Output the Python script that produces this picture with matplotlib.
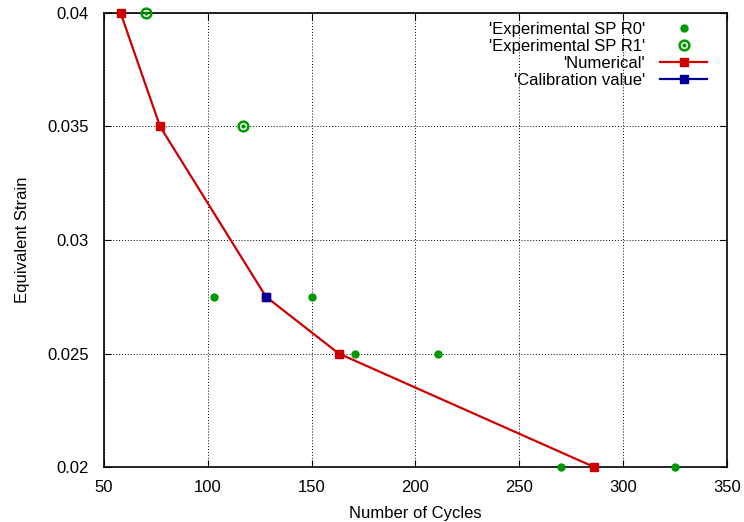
import matplotlib
matplotlib.use('Agg')
import matplotlib.pyplot as plt

# data
r0_cycles = [103, 150, 171, 211, 270, 325]
r0_strain = [0.0275, 0.0275, 0.025, 0.025, 0.02, 0.02]
r1_cycles = [70, 117]
r1_strain = [0.04, 0.035]
num_cycles = [58, 77, 128, 163, 286]
num_strain = [0.04, 0.035, 0.0275, 0.025, 0.02]
cal_cycles = [128]
cal_strain = [0.0275]

green = '#009900'
plt.rcParams['font.family'] = ['Liberation Sans', 'DejaVu Sans']
plt.rcParams['font.size'] = 12

fig = plt.figure(figsize=(7.44, 5.22), dpi=100)
ax = fig.add_axes([104 / 744, 1 - 467 / 522, 623 / 744, 454 / 522])

r0, = ax.plot(r0_cycles, r0_strain, 'o', color=green, markersize=5,
              linestyle='none', clip_on=False, zorder=4)
ring, = ax.plot(r1_cycles, r1_strain, 'o', markerfacecolor='none', markeredgecolor=green,
                markeredgewidth=1.8, markersize=7, linestyle='none', clip_on=False, zorder=4)
dot, = ax.plot(r1_cycles, r1_strain, 'o', color=green, markersize=2,
               linestyle='none', clip_on=False, zorder=4)
num, = ax.plot(num_cycles, num_strain, '-s', color='#cc0000', markersize=5.5, linewidth=1.6,
               clip_on=False, zorder=3)
cal, = ax.plot(cal_cycles, cal_strain, '-s', color='#000099', markersize=5.5, linewidth=1.6,
               clip_on=False, zorder=5)

ax.set_xlim(50, 350)
ax.set_ylim(0.02, 0.04)
ax.set_xticks([50, 100, 150, 200, 250, 300, 350])
ax.set_yticks([0.02, 0.025, 0.03, 0.035, 0.04])
ax.set_yticklabels(['0.02', '0.025', '0.03', '0.035', '0.04'])
ax.grid(True, color='black', linestyle=(0, (1, 2)), linewidth=0.7)
ax.tick_params(direction='in', top=True, right=True, length=5)
ax.tick_params(axis='y', pad=11)
ax.tick_params(axis='x', pad=9)
for s in ax.spines.values():
    s.set_linewidth(1.2)

ax.set_xlabel('Number of Cycles', labelpad=8)
ax.set_ylabel('Equivalent Strain', labelpad=12)

ax.legend([r0, (ring, dot), num, cal],
          ["'Experimental SP R0'", "'Experimental SP R1'", "'Numerical'", "'Calibration value'"],
          loc='upper right', bbox_to_anchor=(1 - 11 / 623, 1), frameon=False,
          markerfirst=False, handlelength=2.8,
          labelspacing=0.12, borderaxespad=0.25, handletextpad=0.9, borderpad=0.3)

fig.savefig('out.png', dpi=100)
